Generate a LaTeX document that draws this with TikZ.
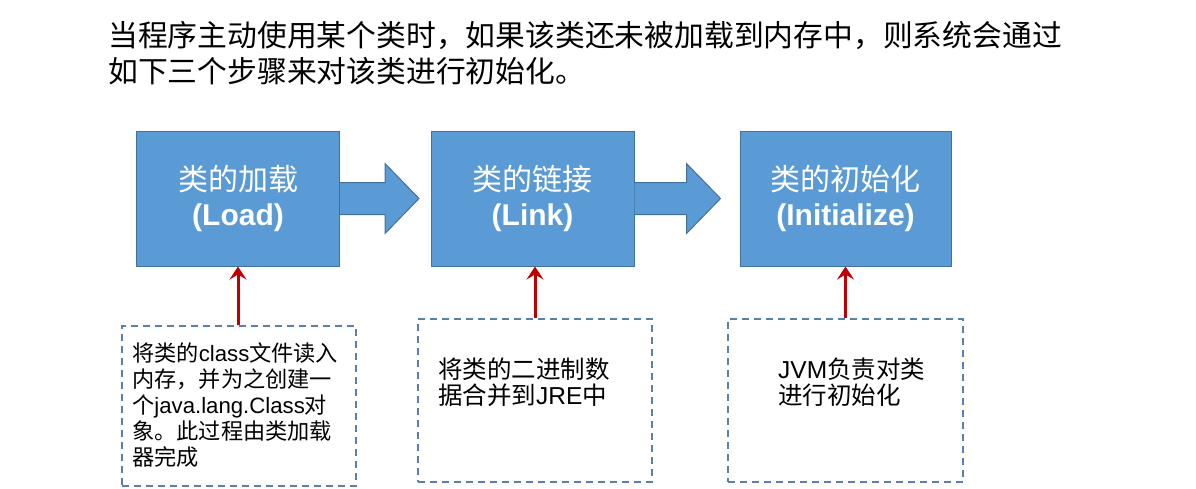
\documentclass[tikz,border=0pt]{standalone}
\usepackage{fontspec}
\setmainfont{Liberation Sans}
\newfontfamily\cjk{Noto Sans CJK SC}
\usetikzlibrary{arrows.meta,calc}
\definecolor{boxfill}{HTML}{5B9BD5}
\definecolor{boxline}{HTML}{41719C}
\definecolor{dashline}{HTML}{5A80A8}
\definecolor{redarrow}{HTML}{C00000}
\tikzset{
  stepbox/.style={rectangle, fill=boxfill, draw=boxline, line width=1pt,
    minimum height=135pt, text=white, align=center, inner sep=0pt,
    font=\fontsize{30}{35}\selectfont},
  notebox/.style={rectangle, draw=dashline, line width=1.4pt, dash pattern=on 7pt off 5pt},
  notetext/.style={anchor=north west, inner sep=0pt, align=left, text=black,
    font=\fontsize{24.5}{26.5}\selectfont},
  smallnote/.style={notetext, font=\fontsize{22.2}{26}\selectfont},
  titletext/.style={anchor=base west, inner sep=0pt, text=black,
    font=\fontsize{29.8}{36}\selectfont\cjk},
  blockarrow/.style={fill=boxfill},
  blockedge/.style={draw=boxline, line width=1pt, line join=miter},
  redup/.style={draw=redarrow, line width=3pt, -{Stealth[length=13pt,width=17pt,inset=5pt]}}
}
\begin{document}
\begin{tikzpicture}[x=1pt,y=-1pt]
\useasboundingbox (0,0) rectangle (1196,488);
% title
\node[titletext] (t1) at (108,46) {当程序主动使用某个类时，如果该类还未被加载到内存中，则系统会通过};
\node[titletext] (t2) at (108,82) {如下三个步骤来对该类进行初始化。};
% step boxes
\node[stepbox, minimum width=203pt] (b1) at (238,198.5) {{\cjk 类的加载}\\\textbf{(Load)}};
\node[stepbox, minimum width=203pt] (b2) at (532.5,198.5) {{\cjk 类的链接}\\\textbf{(Link)}};
\node[stepbox, minimum width=211pt] (b3) at (845.5,198.5) {{\cjk 类的初始化}\\\textbf{(Initialize)}};
% block arrows
\fill[blockarrow] ($(b1.east)+(0,16)$) -- ($(b1.east)+(45,16)$) -- ($(b1.east)+(45,35)$) -- ($(b1.east)+(79,0)$) -- ($(b1.east)+(45,-35)$) -- ($(b1.east)+(45,-16)$) -- ($(b1.east)+(0,-16)$) -- cycle;
\draw[blockedge] ($(b1.east)+(0,16)$) -- ($(b1.east)+(45,16)$) -- ($(b1.east)+(45,35)$) -- ($(b1.east)+(79,0)$) -- ($(b1.east)+(45,-35)$) -- ($(b1.east)+(45,-16)$) -- ($(b1.east)+(0,-16)$);
\fill[blockarrow] ($(b2.east)+(0,16)$) -- ($(b2.east)+(52,16)$) -- ($(b2.east)+(52,35)$) -- ($(b2.east)+(86,0)$) -- ($(b2.east)+(52,-35)$) -- ($(b2.east)+(52,-16)$) -- ($(b2.east)+(0,-16)$) -- cycle;
\draw[blockedge] ($(b2.east)+(0,16)$) -- ($(b2.east)+(52,16)$) -- ($(b2.east)+(52,35)$) -- ($(b2.east)+(86,0)$) -- ($(b2.east)+(52,-35)$) -- ($(b2.east)+(52,-16)$) -- ($(b2.east)+(0,-16)$);
% note boxes
\node[notebox, minimum width=234pt, minimum height=160pt] (d1) at (239,406) {};
\node[notebox, minimum width=234pt, minimum height=163pt] (d2) at (535,400.5) {};
\node[notebox, minimum width=235pt, minimum height=163pt] (d3) at (845.5,400.5) {};
% note texts
\node[smallnote] (n1) at (132,342) {{\cjk 将类的}class{\cjk 文件读入}\\{\cjk 内存，并为之创建一}\\{\cjk 个}java.lang.Class{\cjk 对}\\{\cjk 象。此过程由类加载}\\{\cjk 器完成}};
\node[notetext] (n2) at (438,357.5) {{\cjk 将类的二进制数}\\{\cjk 据合并到}JRE{\cjk 中}};
\node[notetext] (n3) at (778,357.5) {JVM{\cjk 负责对类}\\{\cjk 进行初始化}};
% red arrows
\draw[redup] (d1.north -| b1.south) -- (b1.south);
\draw[redup] (d2.north) -- (d2.north |- b2.south);
\draw[redup] (d3.north -| b3.south) -- (b3.south);
\end{tikzpicture}
\end{document}
